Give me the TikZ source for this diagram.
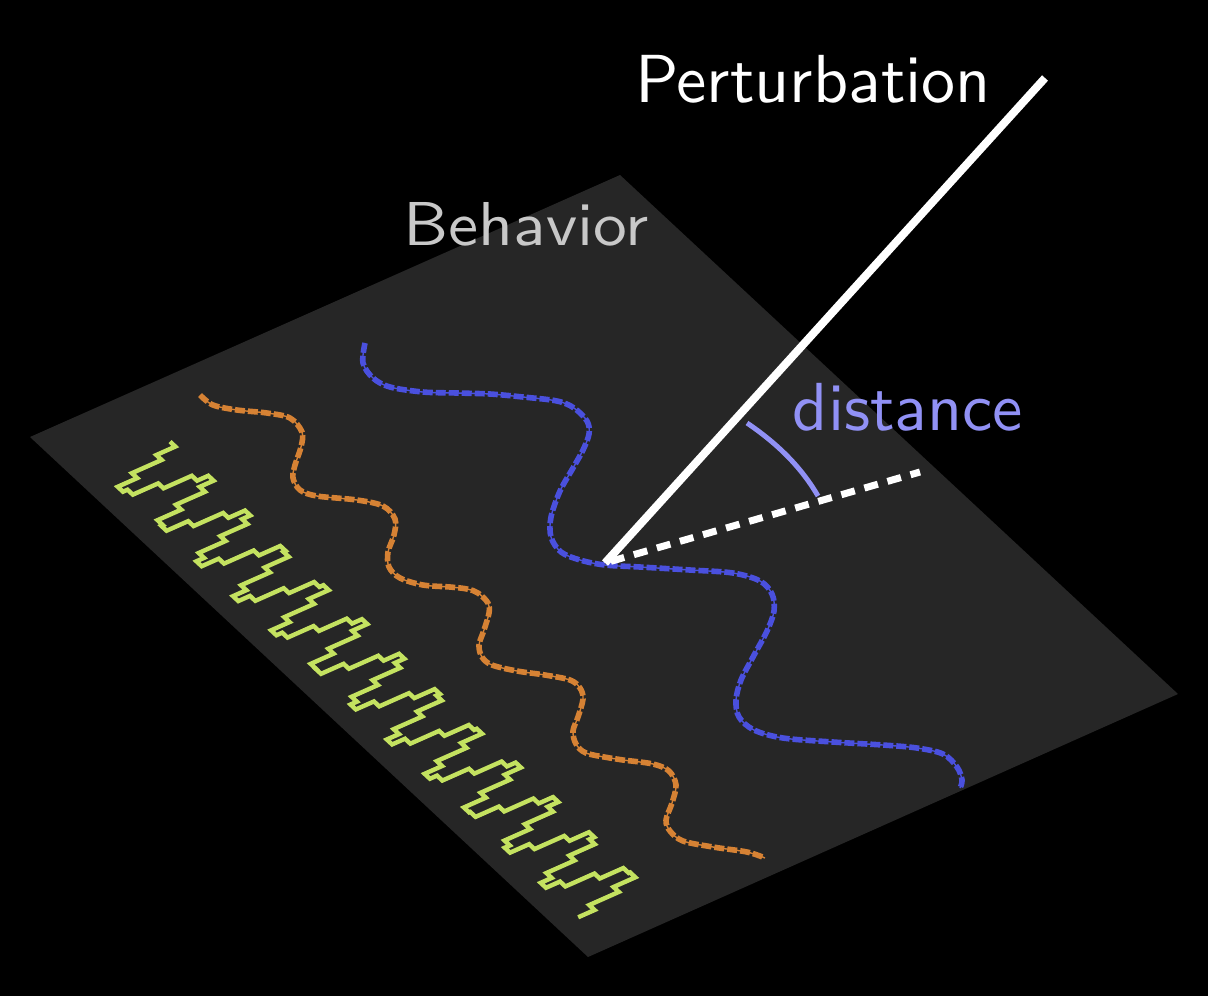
\documentclass[tikz,border=0pt]{standalone}
\usepackage{fontspec}
\newfontfamily\labelfont{lmsans10-regular.otf}
\definecolor{planecol}{RGB}{38,38,38}
\definecolor{bluecol}{RGB}{74,80,222}
\definecolor{orangecol}{RGB}{214,130,52}
\definecolor{greencol}{RGB}{196,226,96}
\definecolor{distcol}{RGB}{145,145,245}
\definecolor{behcol}{RGB}{200,200,200}
\tikzset{
  ribbon/.style={line width=0.7pt, line join=round,
    postaction={draw, line width=2.8pt, dash pattern=on 5pt off 1.5pt}},
  pulse/.style={draw=greencol, line width=2.2pt, line join=miter},
  pertline/.style={draw=white, line width=4pt},
  projline/.style={draw=white, line width=3.5pt, dash pattern=on 7pt off 5pt, dash phase=-3pt},
  anglearc/.style={draw=distcol, line width=2.5pt},
  label/.style={inner sep=0pt, anchor=base}
}
\begin{document}
\begin{tikzpicture}[x=0.5pt,y=-0.5pt]
\fill[black] (0,0) rectangle (1208,996);
\useasboundingbox (0,0) rectangle (1208,996);
% plane
\fill[planecol] (620,175) -- (1178,694) -- (588,957) -- (30,437) -- cycle;
% green sample-and-hold signal, in plane coordinates (x: along the curves, y: across)
\begin{scope}[shift={(30,437)}, x={(279pt,-260pt)}, y={(295pt,131pt)}]
  \draw[pulse] (0.087, {0.097+0.06*cos(360*(0.087-0.153)/0.0688)})
    \foreach \k in {1,...,90} {
      -- ({0.087+\k*0.009511}, {0.097+0.06*cos(360*(0.087+(\k-1)*0.009511-0.153)/0.0688)})
      -- ({0.087+\k*0.009511}, {0.097+0.06*cos(360*(0.087+\k*0.009511-0.153)/0.0688)})
    };
\end{scope}
% orange curve
\draw[ribbon, draw=orangecol] plot[smooth, tension=0.55] coordinates {
 (200,395) (213,405) (237,410) (267,413) (290,418) (302,432) (301,447) (295,465)
 (293,478) (300,490) (317,496) (357,500) (383,506) (395,519) (394,535) (388,552)
 (389,567) (400,578) (423,585) (450,587) (467,589) (478,593) (488,603) (489,613)
 (484,630) (479,645) (482,657) (492,665) (517,671) (545,675) (570,680) (580,688)
 (583,699) (578,717) (573,731) (576,744) (586,753) (610,758) (623,760) (653,764)
 (669,771) (676,785) (672,803) (666,820) (670,831) (683,841) (713,847) (747,852)
 (765,858)};
% blue curve
\draw[ribbon, draw=bluecol] plot[smooth, tension=0.55] coordinates {
 (365,343) (363,363) (373,378) (390,387) (423,392) (457,393) (490,394) (523,397)
 (557,401) (574,408) (587,421) (589,434) (583,450) (573,468) (560,491) (551,517)
 (551,537) (561,552) (580,560) (605,565) (640,567) (690,570) (733,573) (760,581)
 (772,594) (774,611) (767,631) (753,657) (741,680) (736,700) (739,717) (754,730)
 (783,738) (833,742) (883,745) (917,748) (943,754) (957,767) (962,780) (960,788)};
% perturbation geometry
\coordinate (o) at (605,563);
\coordinate (ptop) at (1045,78);
\coordinate (pproj) at (920,472);
\coordinate (arcA) at (747,423);
\coordinate (arcB) at (818,496);
\draw[projline] (o) -- (pproj);
\draw[pertline] (o) -- (ptop);
\draw[anglearc] (arcA) .. controls (775,442) and (800,465) .. (arcB);
% labels
\node[label, text=white, font=\labelfont\fontsize{34}{40}\selectfont] (pert) at (813,102) {Perturbation};
\node[label, text=behcol, xscale=1.09, transform shape, font=\labelfont\fontsize{31}{37}\selectfont] (beh) at (526,245) {Behavior};
\node[label, text=distcol, font=\labelfont\fontsize{34}{40}\selectfont] (dist) at (908,430) {distance};
\end{tikzpicture}
\end{document}
